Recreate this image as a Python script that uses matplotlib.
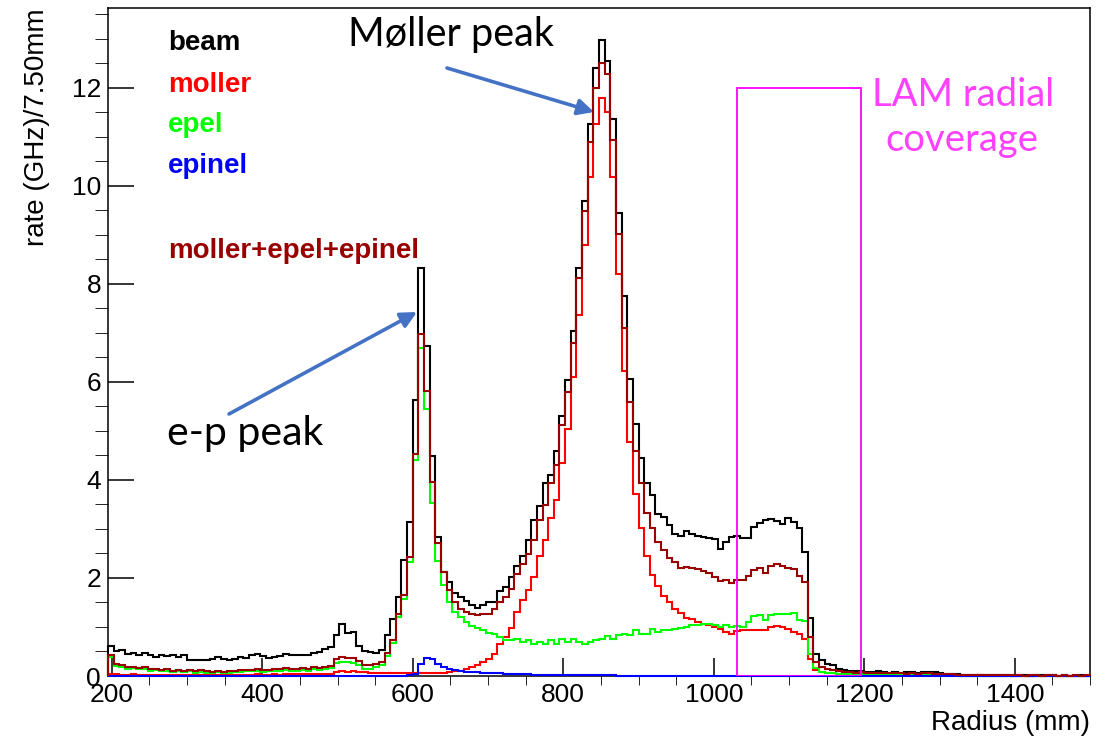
import numpy as np
import matplotlib
matplotlib.use("Agg")
import matplotlib.pyplot as plt
from matplotlib.patches import Rectangle
from matplotlib.ticker import MultipleLocator

# histogram binning (7.5 mm bins, first shown bin starts at 195 mm)
bin_lo = 195.0
bin_w = 7.5

beam = [
    0.61, 0.51, 0.54, 0.45, 0.47, 0.43, 0.47, 0.43, 0.39, 0.43,
    0.40, 0.43, 0.39, 0.42, 0.33, 0.33, 0.32, 0.33, 0.35, 0.39,
    0.35, 0.32, 0.34, 0.39, 0.37, 0.42, 0.45, 0.40, 0.37, 0.39,
    0.40, 0.45, 0.43, 0.42, 0.43, 0.42, 0.46, 0.49, 0.55, 0.59,
    0.84, 1.07, 0.88, 0.90, 0.62, 0.50, 0.48, 0.46, 0.54, 0.84,
    1.17, 1.61, 2.36, 3.14, 5.63, 8.33, 6.73, 4.49, 2.84, 2.12,
    1.92, 1.69, 1.61, 1.54, 1.45, 1.39, 1.44, 1.51, 1.52, 1.73,
    1.82, 2.03, 2.25, 2.45, 2.77, 3.18, 3.46, 3.93, 4.11, 4.59,
    5.31, 6.03, 7.03, 8.33, 9.69, 11.26, 12.41, 12.97, 12.55, 11.36,
    9.44, 7.76, 6.05, 5.15, 4.45, 3.93, 3.69, 3.30, 3.25, 3.08,
    2.89, 2.86, 2.96, 2.90, 2.85, 2.84, 2.82, 2.79, 2.60, 2.73,
    2.84, 2.86, 2.82, 2.82, 3.04, 3.12, 3.18, 3.21, 3.17, 3.11,
    3.22, 3.14, 3.01, 2.53, 1.18, 0.45, 0.32, 0.25, 0.22, 0.15,
    0.13, 0.10, 0.10, 0.11, 0.09, 0.09, 0.10, 0.08, 0.07, 0.08,
    0.07, 0.08, 0.08, 0.07, 0.08, 0.09, 0.08, 0.06, 0.05, 0.05,
    0.04, 0.02, 0.02, 0.02, 0.03, 0.02, 0.03, 0.02, 0.03, 0.02,
    0.01, 0.02, 0.02, 0.01, 0.03, 0.02, 0.03, 0.02, 0.01, 0.02,
    0.01, 0.01, 0.02, 0.01,
]

moller = [
    0.04, 0.04, 0.03, 0.03, 0.04, 0.03, 0.03, 0.02, 0.03, 0.03,
    0.02, 0.03, 0.03, 0.02, 0.03, 0.02, 0.03, 0.02, 0.02, 0.03,
    0.02, 0.03, 0.03, 0.02, 0.03, 0.03, 0.04, 0.03, 0.03, 0.04,
    0.03, 0.04, 0.04, 0.04, 0.04, 0.04, 0.05, 0.04, 0.04, 0.05,
    0.09, 0.10, 0.09, 0.10, 0.09, 0.08, 0.07, 0.07, 0.06, 0.06,
    0.07, 0.06, 0.07, 0.06, 0.06, 0.06, 0.06, 0.06, 0.07, 0.07,
    0.08, 0.10, 0.10, 0.15, 0.18, 0.22, 0.29, 0.35, 0.45, 0.65,
    0.80, 0.98, 1.30, 1.55, 1.75, 2.03, 2.45, 2.78, 3.22, 3.60,
    4.35, 5.03, 6.10, 7.37, 8.80, 10.18, 11.27, 11.80, 11.50, 10.19,
    8.21, 6.23, 4.77, 3.72, 3.01, 2.45, 2.07, 1.84, 1.64, 1.50,
    1.36, 1.28, 1.19, 1.16, 1.10, 1.07, 1.04, 1.00, 0.95, 0.90,
    0.86, 0.92, 0.93, 0.93, 0.93, 0.94, 0.94, 1.00, 1.02, 1.00,
    0.95, 0.90, 0.86, 0.76, 0.35, 0.12, 0.09, 0.07, 0.06, 0.05,
    0.05, 0.04, 0.04, 0.05, 0.04, 0.04, 0.04, 0.03, 0.04, 0.03,
    0.04, 0.03, 0.04, 0.03, 0.04, 0.04, 0.03, 0.03, 0.03, 0.02,
    0.02, 0.01, 0.01, 0.01, 0.02, 0.01, 0.01, 0.01, 0.01, 0.01,
    0.01, 0.01, 0.01, 0.01, 0.01, 0.01, 0.01, 0.01, 0.01, 0.01,
    0.01, 0.01, 0.01, 0.01,
]

epel = [
    0.38, 0.20, 0.19, 0.15, 0.16, 0.14, 0.15, 0.11, 0.12, 0.10,
    0.11, 0.08, 0.10, 0.08, 0.10, 0.07, 0.09, 0.07, 0.06, 0.08,
    0.06, 0.07, 0.08, 0.09, 0.10, 0.10, 0.11, 0.09, 0.10, 0.11,
    0.11, 0.12, 0.11, 0.11, 0.12, 0.10, 0.14, 0.12, 0.14, 0.16,
    0.26, 0.29, 0.28, 0.27, 0.22, 0.15, 0.15, 0.18, 0.22, 0.40,
    0.67, 1.20, 1.58, 2.32, 4.40, 6.70, 5.45, 3.54, 2.34, 1.85,
    1.51, 1.30, 1.20, 1.10, 1.03, 0.97, 0.93, 0.87, 0.85, 0.80,
    0.74, 0.73, 0.76, 0.69, 0.73, 0.66, 0.69, 0.65, 0.73, 0.65,
    0.76, 0.69, 0.76, 0.69, 0.65, 0.69, 0.73, 0.75, 0.81, 0.75,
    0.83, 0.86, 0.83, 0.93, 0.86, 0.85, 0.95, 0.90, 0.93, 0.94,
    0.95, 0.98, 0.99, 1.05, 1.04, 1.06, 1.07, 1.04, 1.00, 1.05,
    1.01, 1.02, 1.00, 1.10, 1.22, 1.24, 1.15, 1.24, 1.27, 1.27,
    1.27, 1.29, 1.15, 1.12, 0.45, 0.16, 0.09, 0.07, 0.06, 0.05,
    0.04, 0.04, 0.03, 0.04, 0.03, 0.03, 0.03, 0.03, 0.02, 0.03,
    0.03, 0.02, 0.03, 0.02, 0.03, 0.02, 0.02, 0.02, 0.02, 0.02,
    0.01, 0.01, 0.01, 0.01, 0.01, 0.01, 0.01, 0.01, 0.01, 0.01,
    0.01, 0.01, 0.00, 0.01, 0.01, 0.00, 0.01, 0.01, 0.00, 0.01,
    0.00, 0.01, 0.00, 0.01,
]

epinel = [
    0.01, 0.01, 0.01, 0.01, 0.01, 0.01, 0.01, 0.01, 0.01, 0.01,
    0.01, 0.01, 0.01, 0.01, 0.01, 0.01, 0.01, 0.01, 0.01, 0.01,
    0.01, 0.01, 0.01, 0.01, 0.01, 0.01, 0.01, 0.01, 0.01, 0.01,
    0.01, 0.01, 0.01, 0.01, 0.01, 0.01, 0.01, 0.01, 0.01, 0.01,
    0.01, 0.01, 0.01, 0.01, 0.01, 0.01, 0.01, 0.01, 0.01, 0.01,
    0.01, 0.01, 0.01, 0.02, 0.05, 0.25, 0.36, 0.35, 0.25, 0.18,
    0.15, 0.12, 0.10, 0.09, 0.08, 0.08, 0.07, 0.07, 0.06, 0.06,
    0.05, 0.05, 0.04, 0.04, 0.04, 0.03, 0.03, 0.03, 0.03, 0.03,
    0.03, 0.03, 0.03, 0.03, 0.03, 0.02, 0.02, 0.02, 0.02, 0.02,
    0.01, 0.01, 0.01, 0.01, 0.01, 0.01, 0.01, 0.01, 0.01, 0.01,
    0.01, 0.01, 0.01, 0.01, 0.01, 0.01, 0.01, 0.01, 0.01, 0.01,
    0.01, 0.01, 0.01, 0.01, 0.01, 0.01, 0.01, 0.01, 0.01, 0.01,
    0.01, 0.01, 0.01, 0.01, 0.00, 0.00, 0.00, 0.00, 0.00, 0.00,
    0.00, 0.00, 0.00, 0.00, 0.00, 0.00, 0.00, 0.00, 0.00, 0.00,
    0.00, 0.00, 0.00, 0.00, 0.00, 0.00, 0.00, 0.00, 0.00, 0.00,
    0.00, 0.00, 0.00, 0.00, 0.00, 0.00, 0.00, 0.00, 0.00, 0.00,
    0.00, 0.00, 0.00, 0.00, 0.00, 0.00, 0.00, 0.00, 0.00, 0.00,
    0.00, 0.00, 0.00, 0.00,
]

# moller+epel+epinel as drawn
summed = [
    0.42, 0.24, 0.22, 0.18, 0.19, 0.17, 0.18, 0.14, 0.15, 0.13,
    0.14, 0.11, 0.13, 0.11, 0.13, 0.10, 0.12, 0.10, 0.09, 0.11,
    0.09, 0.10, 0.11, 0.12, 0.13, 0.13, 0.15, 0.12, 0.13, 0.15,
    0.15, 0.16, 0.15, 0.15, 0.17, 0.14, 0.19, 0.16, 0.18, 0.21,
    0.35, 0.39, 0.37, 0.37, 0.31, 0.23, 0.22, 0.25, 0.29, 0.47,
    0.74, 1.27, 1.65, 2.42, 4.52, 6.97, 5.81, 3.96, 2.71, 2.12,
    1.75, 1.51, 1.37, 1.31, 1.27, 1.24, 1.27, 1.27, 1.36, 1.52,
    1.62, 1.78, 2.09, 2.28, 2.48, 2.77, 3.18, 3.48, 3.94, 4.30,
    5.12, 5.80, 6.80, 8.13, 9.48, 10.90, 12.00, 12.51, 12.29, 10.93,
    9.01, 7.10, 5.59, 4.60, 3.93, 3.33, 3.02, 2.74, 2.57, 2.40,
    2.33, 2.20, 2.22, 2.21, 2.19, 2.15, 2.11, 2.02, 1.93, 1.95,
    1.90, 1.96, 1.96, 2.05, 2.17, 2.20, 2.10, 2.24, 2.28, 2.25,
    2.20, 2.18, 2.05, 1.92, 0.80, 0.29, 0.18, 0.14, 0.12, 0.10,
    0.09, 0.08, 0.07, 0.09, 0.07, 0.07, 0.07, 0.06, 0.06, 0.06,
    0.07, 0.05, 0.07, 0.05, 0.07, 0.06, 0.05, 0.05, 0.05, 0.04,
    0.03, 0.02, 0.02, 0.02, 0.03, 0.02, 0.02, 0.02, 0.02, 0.02,
    0.02, 0.02, 0.01, 0.02, 0.02, 0.01, 0.02, 0.02, 0.01, 0.02,
    0.01, 0.02, 0.01, 0.02,
]

# LAM radial coverage box (mm, GHz)
lam_lo, lam_hi, lam_top = 1031, 1196, 12.0

W, H = 1107, 738


def fig_xy(x, y):
    # pixel position -> figure fraction
    return x / W, 1 - y / H


plt.rcParams['font.family'] = ['Liberation Sans', 'DejaVu Sans']

fig = plt.figure(figsize=(W / 100, H / 100), dpi=100)
ax = fig.add_axes([108 / W, 1 - 676 / H, (1090 - 108) / W, (676 - 8) / H])

edges = bin_lo + bin_w * np.arange(len(beam) + 1)
series = [(beam, 'black'), (moller, '#ff0000'), (epel, '#00ff00'),
          (epinel, '#0000ff'), (summed, '#990000')]
for z, (vals, col) in enumerate(series):
    ax.stairs(vals, edges, color=col, lw=1.5, baseline=0, zorder=3 + z, clip_on=False)

ax.add_patch(Rectangle((lam_lo, 0), lam_hi - lam_lo, lam_top, fill=False,
                       ec='#ff00ff', lw=1.3, zorder=9))

ax.set_xlim(edges[0], edges[-1])
ax.set_ylim(0, 13.63)
ax.xaxis.set_major_locator(MultipleLocator(200))
ax.xaxis.set_minor_locator(MultipleLocator(50))
ax.yaxis.set_major_locator(MultipleLocator(2))
ax.yaxis.set_minor_locator(MultipleLocator(0.5))
ax.set_xticks(range(200, 1401, 200))
ax.tick_params(direction='in', labelsize=19, width=1.1, top=False, right=False)
ax.tick_params(axis='x', which='major', length=13, pad=5)
ax.tick_params(axis='x', which='minor', length=6.5)
ax.tick_params(axis='y', which='major', length=19, pad=5)
ax.tick_params(axis='y', which='minor', length=9.5)
for sp in ax.spines.values():
    sp.set_linewidth(1.1)

ax.set_ylabel('rate (GHz)/7.50mm', loc='top', fontsize=20)
ax.yaxis.set_label_coords(-0.059, 1.0)
ax.set_xlabel('Radius (mm)', loc='right', fontsize=20)
ax.xaxis.set_label_coords(1.0, -0.051)

# ROOT-style text legend
legend = [('beam', 'black', 50), ('moller', '#ff0000', 92), ('epel', '#00ff00', 132),
          ('epinel', '#0000ff', 173), ('moller+epel+epinel', '#990000', 258)]
for txt, col, yb in legend:
    fig.text(*fig_xy(168, yb), txt, color=col, fontsize=20, fontweight='bold', va='baseline')

# slide annotations
note_font = ['Lato', 'DejaVu Sans']
fig.text(*fig_xy(348, 46), 'Møller peak', fontsize=28.5, family=note_font, va='baseline')
fig.text(*fig_xy(167, 445), 'e-p peak', fontsize=29.5, family=note_font, va='baseline')
fig.text(*fig_xy(963, 106), 'LAM radial', fontsize=27.5, family=note_font, color='#ff40ff',
         ha='center', va='baseline')
fig.text(*fig_xy(962, 151), 'coverage', fontsize=27.5, family=note_font, color='#ff40ff',
         ha='center', va='baseline')

arrow = dict(arrowstyle='-|>', color='#4472c4', lw=2.6, mutation_scale=24, shrinkA=0, shrinkB=0)
ax.annotate('', xy=fig_xy(594, 112), xytext=fig_xy(447, 68),
            xycoords='figure fraction', textcoords='figure fraction', arrowprops=arrow)
ax.annotate('', xy=fig_xy(417, 312), xytext=fig_xy(229, 414),
            xycoords='figure fraction', textcoords='figure fraction', arrowprops=arrow)

fig.savefig('out.png', dpi=100)
